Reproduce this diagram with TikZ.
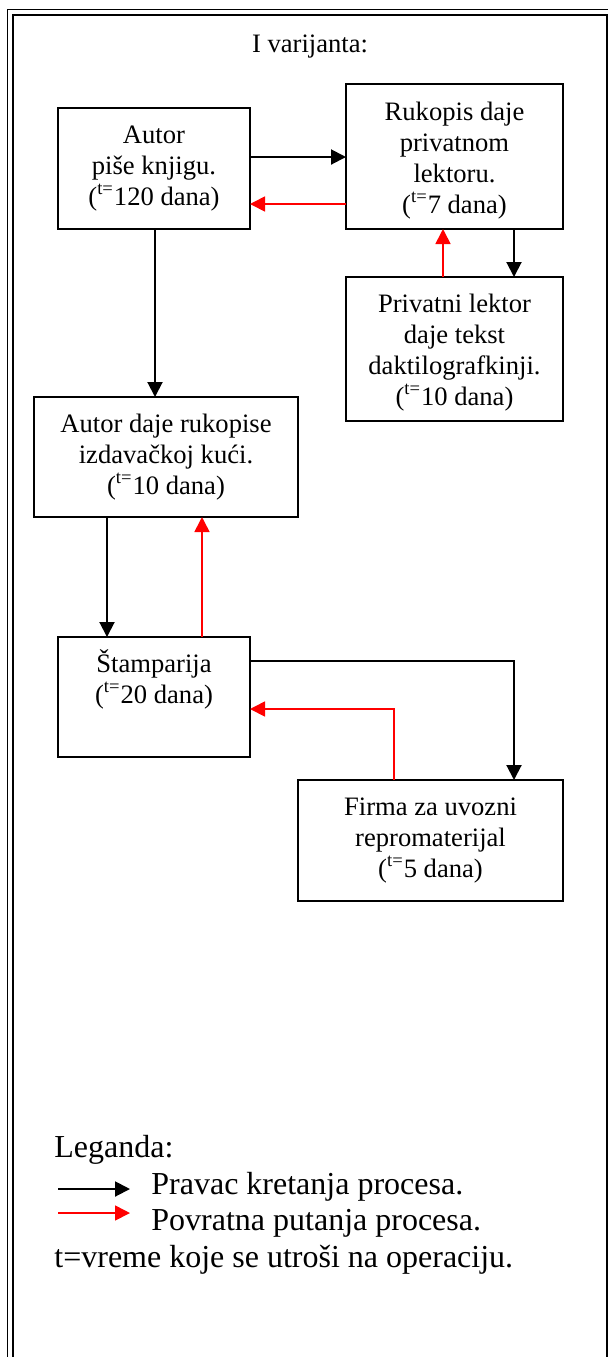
\documentclass[tikz,border=0pt]{standalone}
\usepackage{fontspec}
\setmainfont{Liberation Serif}
\usetikzlibrary{arrows.meta,calc}
\newcommand{\fl}{\rule{0pt}{13pt}}
\begin{document}
\begin{tikzpicture}[x=0.5pt,y=-0.5pt,
  box/.style={draw, line width=1pt, inner sep=0pt, outer sep=0pt},
  btext/.style={align=center, inner sep=0pt, anchor=north, font=\fontsize{13.3}{15.5}\selectfont},
  legtext/.style={anchor=base west, inner sep=0pt, font=\fontsize{16}{18}\selectfont},
  fwd/.style={draw=black, line width=1pt, -{Triangle[length=7.5pt,width=7.5pt]}},
  bck/.style={draw=red, line width=0.85pt, -{Triangle[length=7.5pt,width=7.5pt]}},
  frameout/.style={draw=black, line width=0.8pt},
  framein/.style={draw=black, line width=1.1pt}]
\useasboundingbox (0,0) rectangle (608,1357);
% frame (cut at right and bottom)
\draw[frameout] (7.5,1380) -- (7.5,9.5) -- (640,9.5);
\draw[framein] (12.8,1380) -- (12.8,14.8) -- (606.9,14.8) -- (606.9,1380);
% title
\node[anchor=base, inner sep=0pt, font=\fontsize{13.3}{15.5}\selectfont] (title) at (310,52) {I varijanta:};
% boxes
\node[box, minimum width=96pt, minimum height=60.5pt] (autor) at (154,168.5) {};
\node[box, minimum width=108.5pt, minimum height=72.5pt] (rukopis) at (454.5,156.5) {};
\node[box, minimum width=108.5pt, minimum height=72pt] (privatni) at (454.5,349) {};
\node[box, minimum width=132pt, minimum height=60pt] (izdav) at (166,457) {};
\node[box, minimum width=96pt, minimum height=60pt] (stamp) at (154,697) {};
\node[box, minimum width=132.5pt, minimum height=60.5pt] (firma) at (430.5,840.5) {};
% box texts
\node[btext] (autort) at (154,117) {\fl Autor\\piše knjigu.\\(\textsuperscript{t=}120 dana)};
\node[btext] (rukopist) at (454.5,94) {\fl Rukopis daje\\privatnom\\lektoru.\\(\textsuperscript{t=}7 dana)};
\node[btext] (privatnit) at (454.5,285.7) {\fl Privatni lektor\\daje tekst\\daktilografkinji.\\(\textsuperscript{t=}10 dana)};
\node[btext] (izdavt) at (166,405.7) {\fl Autor daje rukopise\\izdavačkoj kući.\\(\textsuperscript{t=}10 dana)};
\node[btext] (stampt) at (154,645.7) {\fl Štamparija\\(\textsuperscript{t=}20 dana)};
\node[btext] (firmat) at (430.5,789) {\fl Firma za uvozni\\repromaterijal\\(\textsuperscript{t=}5 dana)};
% connectors
\draw[fwd] ($(autor.north east)+(0,49)$) -- ($(rukopis.north west)+(0,73)$);
\draw[bck] ($(rukopis.north west)+(0,120)$) -- ($(autor.north east)+(0,96)$);
\draw[fwd] ($(autor.south)+(1,0)$) -- ($(izdav.north west)+(121,0)$);
\draw[fwd] ($(rukopis.south east)+(-49,0)$) -- ($(privatni.north east)+(-49,0)$);
\draw[bck] ($(privatni.north west)+(97,0)$) -- ($(rukopis.south west)+(97,0)$);
\draw[fwd] ($(izdav.south west)+(73,0)$) -- ($(stamp.north west)+(49,0)$);
\draw[bck] ($(stamp.north west)+(144,0)$) -- ($(izdav.south west)+(168,0)$);
\draw[fwd] ($(stamp.north east)+(0,24)$) -| ($(firma.north east)+(-49,0)$);
\draw[bck] ($(firma.north west)+(96,0)$) |- ($(stamp.north east)+(0,72)$);
% legend
\node[legtext] (leg) at (54,1157) {Leganda:};
\coordinate (la1) at (58,1189);
\coordinate (lb1) at (130,1189);
\draw[fwd] (la1) -- (lb1);
\node[legtext] (leg1) at (151,1194) {Pravac kretanja procesa.};
\coordinate (la2) at (58,1213);
\coordinate (lb2) at (130,1213);
\draw[bck] (la2) -- (lb2);
\node[legtext] (leg2) at (151,1230) {Povratna putanja procesa.};
\node[legtext] (leg3) at (54,1267) {t=vreme koje se utroši na operaciju.};
\end{tikzpicture}
\end{document}
